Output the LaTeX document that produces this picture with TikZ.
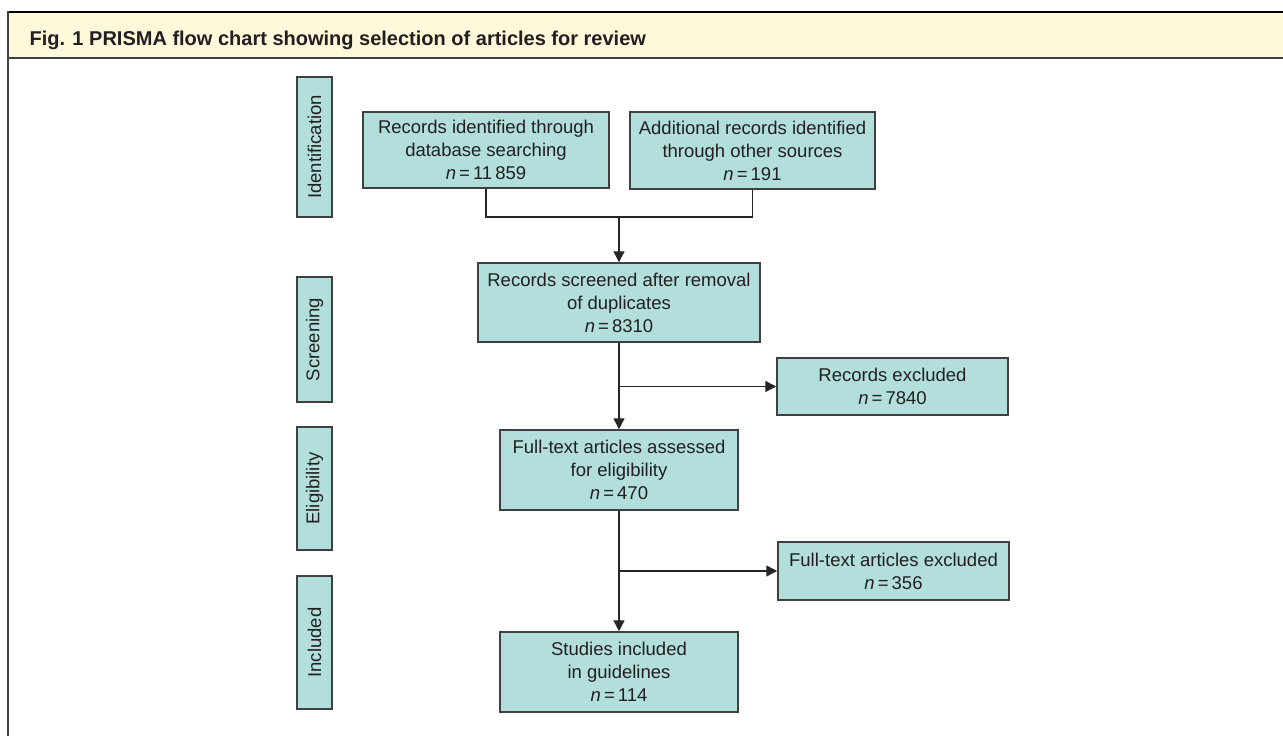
\documentclass[tikz,border=0pt]{standalone}
\usepackage{fontspec}
\setmainfont{Liberation Sans}
\usetikzlibrary{arrows.meta}
\definecolor{boxfill}{HTML}{B2DFDB}
\definecolor{hdrfill}{HTML}{FFF9DB}
\definecolor{edgec}{HTML}{404040}
\definecolor{txt}{HTML}{231F20}
\newcommand{\nn}{\textit{n}\,=\,}
\begin{document}
\begin{tikzpicture}[x=1pt,y=-1pt,
  flowbox/.style={draw=edgec, line width=1.5pt, fill=boxfill, text=txt, align=center,
    inner sep=0pt, font=\fontsize{18.5}{23}\selectfont},
  sidebox/.style={draw=edgec, line width=1.5pt, fill=boxfill, text=txt,
    inner sep=0pt, rotate=90, minimum height=35pt, font=\fontsize{18.5}{23}\selectfont},
  conn/.style={draw=black!85, line width=1.4pt},
  arr/.style={conn, -{Triangle[length=11pt,width=11pt]}}]
\useasboundingbox (0,0) rectangle (1283,736);
% header band and frame
\fill[hdrfill] (8,12) rectangle (1283,58);
\draw[black, line width=2pt] (8,12) -- (1283,12);
\draw[black!75, line width=2pt] (8,58) -- (1283,58);
\draw[edgec, line width=2pt] (8,11) -- (8,736);
\node[anchor=base west, text=txt, font=\fontsize{20}{24}\selectfont\bfseries] (title) at (26,45)
  {Fig. 1 PRISMA flow chart showing selection of articles for review};
% side labels
\node[sidebox, minimum width=140pt] (sid) at (314.5,147) {Identification};
\node[sidebox, minimum width=125pt] (sscr) at (314.5,339.5) {Screening};
\node[sidebox, minimum width=123pt] (selig) at (314.5,488.5) {Eligibility};
\node[sidebox, minimum width=133pt] (sinc) at (314.5,642.5) {Included};
% flow boxes
\node[flowbox, minimum width=246pt, minimum height=76pt] (A) at (486,150)
  {Records identified through\\database searching\\\nn 11\,859};
\node[flowbox, minimum width=245pt, minimum height=77pt] (B) at (752.5,150.5)
  {Additional records identified\\through other sources\\\nn 191};
\node[flowbox, minimum width=282pt, minimum height=79pt] (C) at (619,302.5)
  {Records screened after removal\\of duplicates\\\nn 8310};
\node[flowbox, minimum width=231pt, minimum height=57pt] (D) at (892.5,386.5)
  {Records excluded\\\nn 7840};
\node[flowbox, minimum width=238pt, minimum height=80pt] (E) at (619,470)
  {Full-text articles assessed\\for eligibility\\\nn 470};
\node[flowbox, minimum width=231pt, minimum height=58pt] (F) at (893.5,571)
  {Full-text articles excluded\\\nn 356};
\node[flowbox, minimum width=238pt, minimum height=80pt] (G) at (619,672)
  {Studies included\\in guidelines\\\nn 114};
% connectors
\coordinate (j) at (619,217);
\draw[conn] (A.south) |- (j) -| (B.south);
\draw[arr] (j) -- (C.north);
\draw[arr] (C.south) -- (E.north);
\draw[arr] (C.south |- D.west) -- (D.west);
\draw[arr] (E.south) -- (G.north);
\draw[arr] (E.south |- F.west) -- (F.west);
\end{tikzpicture}
\end{document}
